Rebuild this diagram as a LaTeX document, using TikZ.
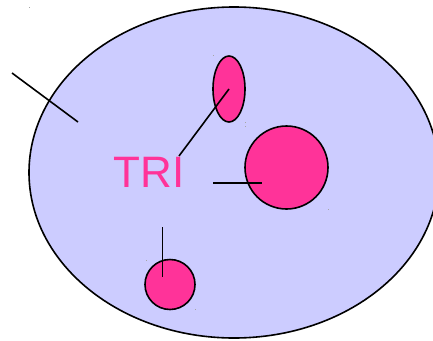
\documentclass[tikz,border=0pt]{standalone}
\usepackage{fontspec}
\usepackage{xcolor}
\usepackage{tikz}
\usetikzlibrary{shapes.geometric, positioning}
\newfontfamily\labelfont{Liberation Sans}

\begin{document}
\begin{tikzpicture}[x=1pt, y=-1pt, line width=1.6pt,
    blob/.style={ellipse, draw=black, fill=spot, inner sep=0pt},
    handle/.style={fill=gray!70, minimum size=1pt, inner sep=0pt}]
  \definecolor{field}{HTML}{CCCCFF}
  \definecolor{spot}{HTML}{FF3399}

  \useasboundingbox (0,0) rectangle (433,340);
  \clip (0,0) rectangle (433,340);

  \node[ellipse, draw=black, fill=field, inner sep=0pt, minimum width=410pt, minimum height=331pt] (region) at (234,172.5) {};

  \node[blob, minimum width=32pt, minimum height=66pt] (oval) at (229,89) {};
  \node[blob, circle, minimum size=83pt] (disc) at (286.5,167.5) {};
  \node[blob, circle, minimum size=50pt] (dot) at (170,284.5) {};

  \node[anchor=base, inner sep=0pt, text=spot, font=\labelfont\fontsize{44}{44}\selectfont] (tri) at (149,187) {TRI};

  % leader lines
  \coordinate (outside) at (12,73);
  \coordinate (inside) at (78,122);
  \coordinate (trihook) at (179,156);
  \coordinate (trifoot) at (213,183);
  \coordinate (discend) at (262,183);
  \coordinate (stem) at (162.5,227);
  \coordinate (dotend) at (162.5,277);
  \draw (outside) -- (inside);
  \draw (trihook) -- (oval.center);
  \draw (trifoot) -- (discend);
  \draw (stem) -- (dotend);

  % selection handles
  \node[handle] (h1) at (29.5,7) {};
  \node[handle] (h2) at (213,55.5) {};
  \node[handle] (h3) at (245.5,122) {};
  \node[handle] (h4) at (245.5,126) {};
  \node[handle] (h5) at (328.5,209.5) {};
  \node[handle] (h6) at (146,260) {};
  \node[handle] (h7) at (195.5,309.5) {};
\end{tikzpicture}
\end{document}
